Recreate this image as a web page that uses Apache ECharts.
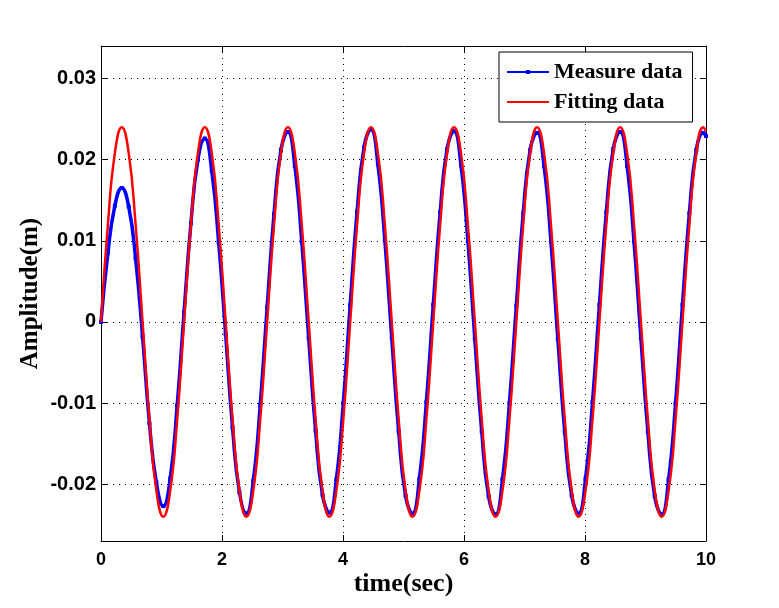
<!DOCTYPE html>
<html>
<head>
<meta charset="utf-8">
<script src="https://cdn.jsdelivr.net/npm/echarts@6/dist/echarts.min.js"></script>
<style>
html,body{margin:0;padding:0;background:#fff;}
#chart{width:779px;height:608px;}
</style>
</head>
<body>
<div id="chart"></div>
<script>
// Sample times (s)
var times = [0.000,0.114,0.229,0.343,0.458,0.572,0.687,0.801,0.915,1.030,1.144,1.259,
1.373,1.487,1.602,1.716,1.831,1.945,2.060,2.174,2.288,2.403,2.517,2.632,
2.746,2.860,2.975,3.089,3.204,3.318,3.433,3.547,3.661,3.776,3.890,4.005,
4.119,4.233,4.348,4.462,4.577,4.691,4.806,4.920,5.034,5.149,5.263,5.378,
5.492,5.606,5.721,5.835,5.950,6.064,6.179,6.293,6.407,6.522,6.636,6.751,
6.865,6.979,7.094,7.208,7.323,7.437,7.551,7.666,7.780,7.895,8.009,8.124,
8.238,8.352,8.467,8.581,8.696,8.810,8.924,9.039,9.153,9.268,9.382,9.497,
9.611,9.725,9.840,9.954,10.000];

// Measured amplitude (m)
var measureData = [0.0000,0.0085,0.0143,0.0165,0.0142,0.0078,-0.0018,-0.0125,-0.0198,-0.0227,-0.0193,-0.0103,
0.0012,0.0122,0.0200,0.0226,0.0186,0.0098,-0.0015,-0.0130,-0.0210,-0.0236,-0.0196,-0.0102,
0.0018,0.0133,0.0212,0.0234,0.0192,0.0099,-0.0020,-0.0134,-0.0213,-0.0235,-0.0194,-0.0100,
0.0021,0.0136,0.0215,0.0237,0.0194,0.0101,-0.0020,-0.0135,-0.0214,-0.0236,-0.0193,-0.0099,
0.0021,0.0135,0.0213,0.0235,0.0193,0.0100,-0.0021,-0.0135,-0.0215,-0.0237,-0.0194,-0.0100,
0.0020,0.0134,0.0212,0.0233,0.0192,0.0099,-0.0021,-0.0136,-0.0214,-0.0236,-0.0193,-0.0099,
0.0021,0.0135,0.0213,0.0234,0.0192,0.0099,-0.0020,-0.0135,-0.0215,-0.0237,-0.0194,-0.0100,
0.0021,0.0134,0.0212,0.0233,0.0229];

// Fitted amplitude (m)
var fittingData = [0.0000,0.0120,0.0208,0.0240,0.0208,0.0120,0.0000,-0.0120,-0.0208,-0.0240,-0.0208,-0.0120,
0.0000,0.0120,0.0208,0.0240,0.0208,0.0120,0.0000,-0.0120,-0.0208,-0.0240,-0.0208,-0.0120,
0.0000,0.0120,0.0208,0.0240,0.0208,0.0120,0.0000,-0.0120,-0.0208,-0.0240,-0.0208,-0.0120,
0.0000,0.0120,0.0208,0.0240,0.0208,0.0120,0.0000,-0.0120,-0.0208,-0.0240,-0.0208,-0.0120,
0.0000,0.0120,0.0208,0.0240,0.0208,0.0120,0.0000,-0.0120,-0.0208,-0.0240,-0.0208,-0.0120,
0.0000,0.0120,0.0208,0.0240,0.0208,0.0120,0.0000,-0.0120,-0.0208,-0.0240,-0.0208,-0.0120,
0.0000,0.0120,0.0208,0.0240,0.0208,0.0120,0.0000,-0.0120,-0.0208,-0.0240,-0.0208,-0.0120,
0.0000,0.0120,0.0208,0.0240,0.0235];

var xTicks = [0, 2, 4, 6, 8, 10];
var yTicks = [-0.02, -0.01, 0, 0.01, 0.02, 0.03];
var seriesNames = ['Measure data', 'Fitting data'];

function pairs(xs, ys) { return xs.map(function (x, i) { return [x, ys[i]]; }); }

var chart = echarts.init(document.getElementById('chart'));
var sans = 'Liberation Sans, Arial, sans-serif';
var serif = 'Liberation Serif, Times New Roman, serif';
var dotted = { color: '#000', width: 1, type: [1, 5] };

chart.setOption({
  backgroundColor: '#fff',
  animation: false,
  grid: { left: 101, right: 73, top: 46, bottom: 67, containLabel: false },
  legend: {
    orient: 'vertical',
    left: 499, top: 52,
    padding: [7, 10, 7, 8],
    itemGap: 4,
    itemWidth: 42, itemHeight: 4,
    backgroundColor: '#fff',
    borderColor: '#000', borderWidth: 1, borderRadius: 0,
    data: [
      { name: seriesNames[0], icon: 'path://M0,0M0,1h42v2H0zM19,0h4v4h-4z' },
      { name: seriesNames[1], icon: 'path://M0,0M0,1h42v2H0zM0,4M42,4' }
    ],
    textStyle: { fontFamily: serif, fontWeight: 'bold', fontSize: 22, color: '#000', lineHeight: 26 }
  },
  xAxis: [{
    type: 'value', min: xTicks[0], max: xTicks[xTicks.length - 1], interval: 2,
    name: 'time(sec)', nameLocation: 'middle', nameGap: 30, nameMoveOverlap: false,
    nameTextStyle: { fontFamily: serif, fontWeight: 'bold', fontSize: 26, color: '#000' },
    axisLine: { show: true, onZero: false, lineStyle: { color: '#000', width: 1 } },
    axisTick: { show: true, inside: true, length: 6, lineStyle: { color: '#000' } },
    axisLabel: { margin: 10, fontFamily: sans, fontWeight: 'bold', fontSize: 18, color: '#000' },
    splitLine: { show: true, lineStyle: dotted }
  }, {
    type: 'value', position: 'top', min: xTicks[0], max: xTicks[xTicks.length - 1], interval: 2,
    axisLine: { show: true, onZero: false, lineStyle: { color: '#000', width: 1 } },
    axisTick: { show: true, inside: true, length: 6, lineStyle: { color: '#000' } },
    axisLabel: { show: false },
    splitLine: { show: false }
  }],
  yAxis: [{
    type: 'value', min: -0.027, max: 0.034,
    name: 'Amplitude(m)', nameLocation: 'middle', nameGap: 58, nameRotate: 90, nameMoveOverlap: false,
    nameTextStyle: { fontFamily: serif, fontWeight: 'bold', fontSize: 25, color: '#000' },
    axisLine: { show: true, onZero: false, lineStyle: { color: '#000', width: 1 } },
    axisTick: { show: true, inside: true, length: 6, customValues: yTicks, lineStyle: { color: '#000' } },
    axisLabel: { margin: 5, customValues: yTicks, fontFamily: sans, fontWeight: 'bold', fontSize: 20, color: '#000',
      formatter: function (v) { return String(Math.round(v * 100) / 100); } },
    splitLine: { show: true, lineStyle: dotted }
  }, {
    type: 'value', position: 'right', min: -0.027, max: 0.034,
    axisLine: { show: true, onZero: false, lineStyle: { color: '#000', width: 1 } },
    axisTick: { show: true, inside: true, length: 6, customValues: yTicks, lineStyle: { color: '#000' } },
    axisLabel: { show: false, customValues: yTicks },
    splitLine: { show: false }
  }],
  series: [{
    name: seriesNames[0], type: 'line',
    xAxisIndex: 0, yAxisIndex: 0,
    data: pairs(times, measureData),
    smooth: 0.5,
    symbol: 'rect', symbolSize: 4, showSymbol: true,
    itemStyle: { color: '#0000ff' },
    lineStyle: { color: '#0000ff', width: 3.5 },
    z: 2
  }, {
    name: seriesNames[1], type: 'line',
    xAxisIndex: 0, yAxisIndex: 0,
    data: pairs(times, fittingData),
    smooth: 0.5,
    symbol: 'none', showSymbol: false,
    itemStyle: { color: '#ff0000' },
    lineStyle: { color: '#ff0000', width: 2.5 },
    z: 3
  }]
});
</script>
</body>
</html>
